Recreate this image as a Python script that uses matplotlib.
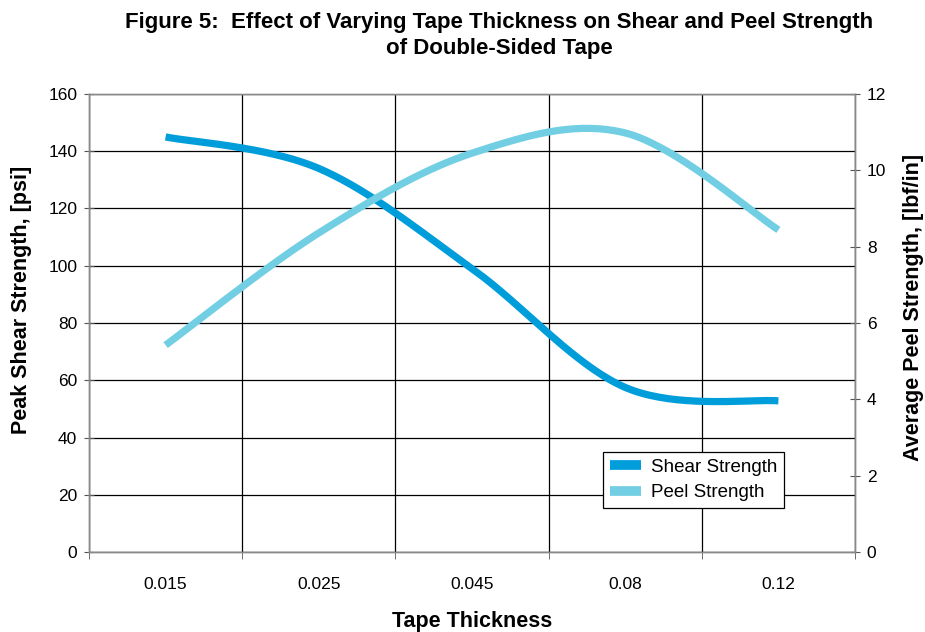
import numpy as np
import matplotlib.pyplot as plt
from matplotlib.ticker import MultipleLocator, FixedLocator

plt.rcParams['font.family'] = ['Liberation Sans', 'DejaVu Sans']

# data
thickness = ["0.015", "0.025", "0.045", "0.08", "0.12"]
shear = [145, 134, 99, 57.5, 52.8]
peel = [5.42, 8.36, 10.45, 10.98, 8.44]

shear_color = "#009DDB"
peel_color = "#72CFE3"


def smooth(y, n=40):
    # Excel style smoothed line (Catmull-Rom Bezier through the points)
    y = np.asarray(y, dtype=float)
    x = np.arange(len(y), dtype=float)
    pts = np.column_stack([x, y])
    ext = np.vstack([pts[0], pts, pts[-1]])
    out = []
    for i in range(len(pts) - 1):
        p0, p1, p2, p3 = ext[i], ext[i + 1], ext[i + 2], ext[i + 3]
        c1 = p1 + (p2 - p0) / 6
        c2 = p2 - (p3 - p1) / 6
        t = np.linspace(0, 1, n)[:, None]
        seg = ((1 - t) ** 3 * p1 + 3 * (1 - t) ** 2 * t * c1
               + 3 * (1 - t) * t ** 2 * c2 + t ** 3 * p2)
        out.append(seg if i == 0 else seg[1:])
    out = np.vstack(out)
    return out[:, 0], out[:, 1]


fig = plt.figure(figsize=(9.25, 6.32), dpi=100)
ax = fig.add_axes([89 / 925, 1 - 552 / 632, 766 / 925, 458 / 632])
ax2 = ax.twinx()

xs, ys = smooth(shear)
ax.plot(xs, ys, color=shear_color, linewidth=5.2, solid_capstyle='butt',
        label="Shear Strength", zorder=3)
xp, yp = smooth(peel)
ax2.plot(xp, yp, color=peel_color, linewidth=5.2, solid_capstyle='butt',
         label="Peel Strength", zorder=3)

# axes ranges
ax.set_xlim(-0.5, len(thickness) - 0.5)
ax.set_ylim(0, 160)
ax2.set_ylim(0, 12)

# ticks
ax.set_xticks(range(len(thickness)))
ax.set_xticklabels(thickness)
ax.xaxis.set_minor_locator(FixedLocator(np.arange(-0.5, len(thickness), 1)))
ax.tick_params(axis='x', which='major', length=0, labelsize=12.5, pad=18)
ax.tick_params(axis='x', which='minor', length=5, direction='out', color='#555555')
ax.yaxis.set_major_locator(MultipleLocator(20))
ax.tick_params(axis='y', direction='inout', length=7, labelsize=12.5, color='#555555', pad=5)
ax2.yaxis.set_major_locator(MultipleLocator(2))
ax2.tick_params(axis='y', direction='inout', length=7, labelsize=12.5, color='#555555', pad=5)

# grid
ax.grid(True, which='major', axis='y', color='black', linewidth=0.9)
ax.grid(True, which='minor', axis='x', color='black', linewidth=0.9)
ax.set_axisbelow(True)

for a in (ax, ax2):
    for s in a.spines.values():
        s.set_color('#888888')
        s.set_linewidth(1)
ax.spines['top'].set_color('#bbbbbb')

# labels
ax.set_xlabel("Tape Thickness", fontsize=15.5, fontweight='bold', labelpad=14)
ax.set_ylabel("Peak Shear Strength, [psi]", fontsize=15.5, fontweight='bold')
ax2.set_ylabel("Average Peel Strength, [lbf/in]", fontsize=15.5, fontweight='bold')
ax.yaxis.set_label_coords(-0.0744, 0.55)
ax2.yaxis.set_label_coords(1.063, 0.533)
fig.suptitle("Figure 5:  Effect of Varying Tape Thickness on Shear and Peel Strength\nof Double-Sided Tape",
             fontsize=16, fontweight='bold', y=0.981, x=0.54, linespacing=1.3)

# legend
h1, l1 = ax.get_legend_handles_labels()
h2, l2 = ax2.get_legend_handles_labels()
leg = ax2.legend(h1 + h2, l1 + l2, loc='lower left', bbox_to_anchor=(0.671, 0.096),
                 fontsize=13.5, frameon=True, fancybox=False, edgecolor='black',
                 framealpha=1, handlelength=1.7, borderpad=0.35, labelspacing=0.45,
                 handletextpad=0.5, borderaxespad=0)
leg.get_frame().set_linewidth(0.9)
for line in leg.get_lines():
    line.set_linewidth(7)

plt.savefig("out.png", dpi=100)
